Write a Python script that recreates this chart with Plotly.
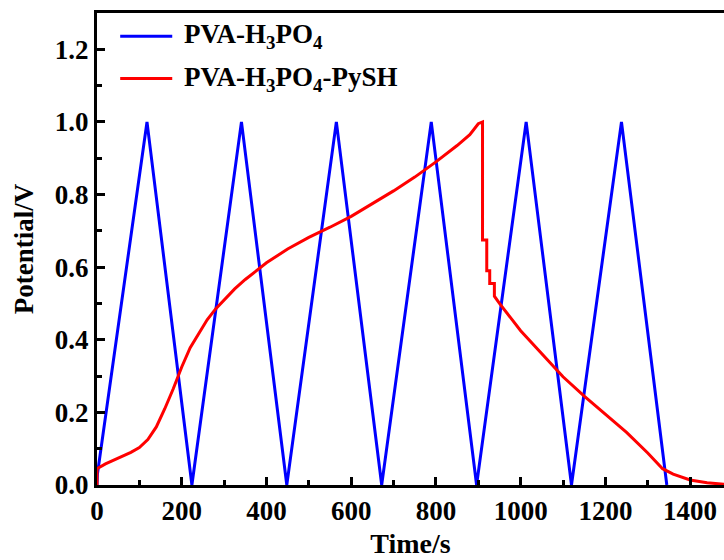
import plotly.graph_objects as go

# Blue: PVA-H3PO4 (triangle GCD cycles)
blue_t = [0, 1, 118, 224, 341, 448, 565, 672, 789, 896, 1013, 1120, 1238, 1345]
blue_v = [0.0, 0.03, 1.0, 0.0, 1.0, 0.0, 1.0, 0.0, 1.0, 0.0, 1.0, 0.0, 1.0, 0.0]

# Red: PVA-H3PO4-PySH
red_t = [0, 0, 20, 50, 80, 100, 120, 140, 160, 180, 200, 220, 240, 260, 280, 300, 325, 350,
         400, 450, 500, 550, 600, 650, 700, 750, 800, 850, 880, 900, 910,
         910, 920, 920, 927, 927, 938, 938, 950, 1000, 1050, 1100, 1150, 1200,
         1250, 1300, 1335, 1360, 1400, 1440, 1480]
red_v = [0.0, 0.045, 0.058, 0.073, 0.09, 0.103, 0.125, 0.16, 0.21, 0.265, 0.325, 0.378, 0.418, 0.455, 0.485, 0.51, 0.54, 0.566,
         0.612, 0.65, 0.682, 0.71, 0.74, 0.775, 0.81, 0.848, 0.89, 0.935, 0.965, 0.995, 1.0,
         0.675, 0.675, 0.59, 0.59, 0.555, 0.555, 0.52, 0.5, 0.425, 0.36, 0.298, 0.245, 0.195,
         0.145, 0.088, 0.045, 0.03, 0.014, 0.006, 0.002]

series_names = ["PVA-H<sub>3</sub>PO<sub>4</sub>", "PVA-H<sub>3</sub>PO<sub>4</sub>-PySH"]
series_colors = ["#0000FF", "#FF0000"]

x_ticks = [0, 200, 400, 600, 800, 1000, 1200, 1400]
y_ticks = [0.0, 0.2, 0.4, 0.6, 0.8, 1.0, 1.2]

FONT = "Liberation Serif"

fig = go.Figure()
fig.add_trace(go.Scatter(x=blue_t, y=blue_v, mode="lines", name=series_names[0],
                         line=dict(color=series_colors[0], width=3), showlegend=False))
fig.add_trace(go.Scatter(x=red_t, y=red_v, mode="lines", name=series_names[1],
                         line=dict(color=series_colors[1], width=3), showlegend=False))

# manual legend
leg_y = [0.951, 0.861]
for name, col, yy in zip(series_names, series_colors, leg_y):
    fig.add_shape(type="line", xref="paper", yref="paper", x0=0.037, x1=0.120, y0=yy, y1=yy,
                  line=dict(color=col, width=3))
    fig.add_annotation(xref="paper", yref="paper", x=0.136, y=yy, text="<b>" + name + "</b>",
                       showarrow=False, xanchor="left", yanchor="middle",
                       font=dict(family=FONT, size=27, color="black"))

tickfont = dict(family=FONT, size=27, color="black", weight="bold")
fig.update_xaxes(range=[0, 1480], tickvals=x_ticks, ticktext=[str(v) for v in x_ticks],
                 ticks="inside", ticklen=8, tickwidth=2.5, tickcolor="black",
                 minor=dict(ticks="inside", dtick=100, ticklen=5, tickwidth=2.5, tickcolor="black"),
                 showline=True, linecolor="black", linewidth=3, mirror=True, automargin=False,
                 showgrid=False, zeroline=False, tickfont=tickfont,
                 title=dict(text="<b>Time/s</b>", font=dict(family=FONT, size=28, color="black"), standoff=8))
fig.update_yaxes(range=[0, 1.3], tickvals=y_ticks, ticktext=["%.1f" % v for v in y_ticks],
                 ticks="inside", ticklen=8, tickwidth=2.5, tickcolor="black",
                 minor=dict(ticks="inside", dtick=0.1, ticklen=5, tickwidth=2.5, tickcolor="black"),
                 showline=True, linecolor="black", linewidth=3, mirror=False, automargin=False,
                 showgrid=False, zeroline=False, tickfont=tickfont,
                 title=dict(text="<b>Potential/V</b>", font=dict(family=FONT, size=27, color="black"), standoff=14))

fig.update_layout(width=724, height=560, margin=dict(l=97, r=0, t=13, b=75),
                  plot_bgcolor="white", paper_bgcolor="white")
fig.write_html("out.html", config={"displayModeBar": False},
               post_script="document.body.style.margin='0';document.body.style.overflow='hidden';")
